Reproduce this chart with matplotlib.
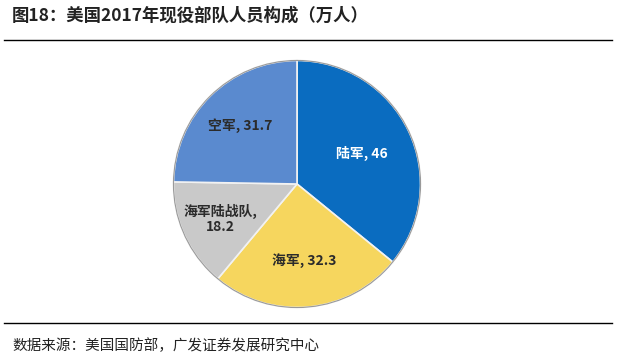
import numpy as np
import matplotlib.pyplot as plt
from matplotlib.lines import Line2D
from matplotlib.patches import Circle

plt.rcParams['font.family'] = ['Noto Sans CJK SC', 'DejaVu Sans']

# data
labels = ['陆军', '海军', '海军陆战队', '空军']
values = [46, 32.3, 18.2, 31.7]
value_text = ['46', '32.3', '18.2', '31.7']
colors = ['#0A6CC0', '#F6D65E', '#C9C9C9', '#5A8ACF']
text_colors = ['white', '#2b2b2b', '#2b2b2b', '#2b2b2b']
label_r = [0.58, 0.62, 0.68, 0.66]

fig = plt.figure(figsize=(6.2, 3.62), dpi=100)

# title and separator lines
fig.text(12 / 620, 1 - 16 / 362, '图18：美国2017年现役部队人员构成（万人）',
         fontsize=12.5, fontweight='bold', color='#222222', va='center', ha='left')
fig.add_artist(Line2D([4 / 620, 612 / 620], [1 - 40 / 362] * 2, color='black', lw=1.0))
fig.add_artist(Line2D([4 / 620, 612 / 620], [1 - 323 / 362] * 2, color='black', lw=1.0))
fig.text(12 / 620, 1 - 346 / 362, '数据来源：美国国防部，广发证券发展研究中心',
         fontsize=10.5, color='#222222', va='center', ha='left')

# pie
cx, cy, r = 297, 184, 126
ax = fig.add_axes([(cx - r) / 620, (362 - cy - r) / 362, 2 * r / 620, 2 * r / 362])
wedges, _ = ax.pie(values, colors=colors, startangle=90, counterclock=False,
                   wedgeprops=dict(edgecolor='#f2f2f2', linewidth=1.2))
ax.add_patch(Circle((0, 0), 1.0, fill=False, edgecolor='#9a9a9a', lw=0.8))
ax.set_aspect('auto')
ax.set_xlim(-1.02, 1.02)
ax.set_ylim(-1.02, 1.02)

for w, lab, v, tc, lr in zip(wedges, labels, value_text, text_colors, label_r):
    ang = np.deg2rad((w.theta1 + w.theta2) / 2)
    x, y = lr * np.cos(ang), lr * np.sin(ang)
    if lab == '海军陆战队':
        txt = lab + ',\n' + v
    else:
        txt = lab + ', ' + v
    ax.text(x, y, txt, ha='center', va='center', fontsize=10, fontweight='bold',
            color=tc, linespacing=1.1)

fig.savefig('out.png', dpi=100)
